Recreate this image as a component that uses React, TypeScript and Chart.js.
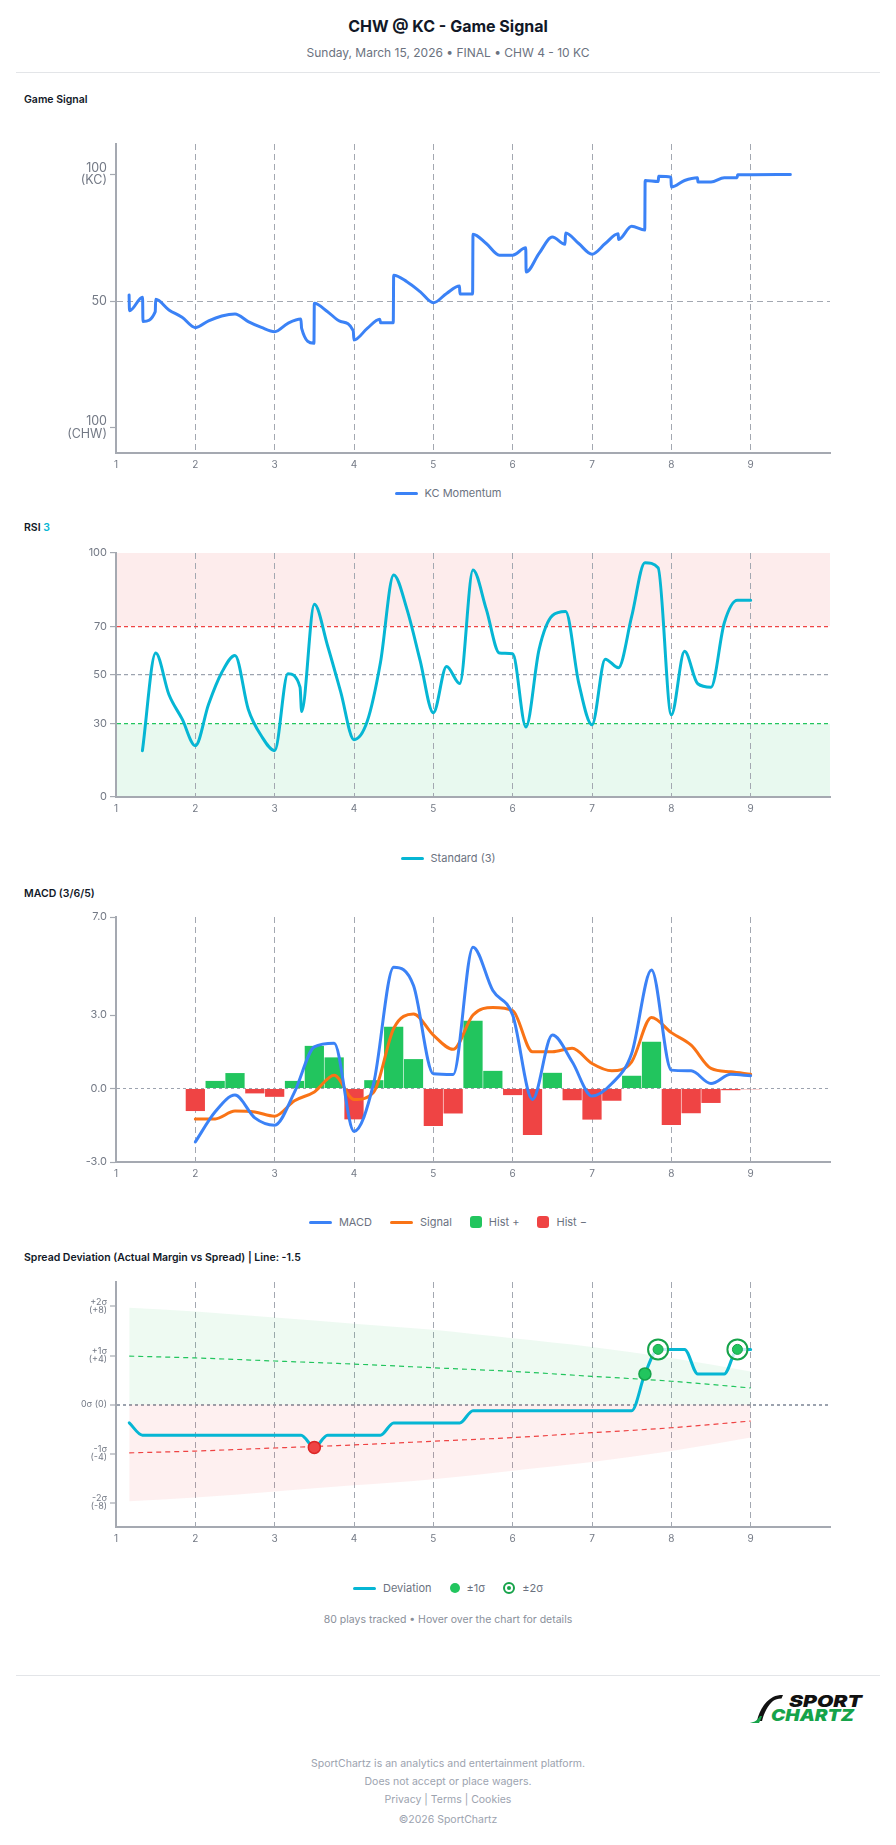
import React, { useEffect, useRef } from "react";
import { Chart, registerables } from "chart.js";

Chart.register(...registerables);

if (typeof document !== "undefined") {
  document.body.style.margin = "0";
  document.body.style.background = "#ffffff";
}

const FONT = "Inter, 'Noto Sans', 'DejaVu Sans', sans-serif";
const AXIS_COLOR = "#a5a9b1";
const GRID_COLOR = "#a3a8b1";
const TICK_COLOR = "#737985";
const W = 896;
const AREA_LEFT = 116;
const PAD_RIGHT = W - 830;

// ---------- shared x axis (innings) ----------
const INNINGS = [1, 2, 3, 4, 5, 6, 7, 8, 9];

// ---------- Game Signal (KC momentum) ----------
const momentumX = [1.165, 1.17, 1.335, 1.34, 1.495, 1.5, 1.667, 1.833, 2.0, 2.167, 2.333, 2.5, 2.667, 2.833, 3.0, 3.167, 3.33, 3.34, 3.495, 3.5, 3.667, 3.833, 3.99, 4.0, 4.167, 4.325, 4.335, 4.495, 4.5, 4.667, 4.833, 5.0, 5.167, 5.33, 5.335, 5.495, 5.5, 5.667, 5.833, 6.0, 6.165, 6.17, 6.333, 6.5, 6.66, 6.667, 6.833, 7.0, 7.167, 7.33, 7.335, 7.5, 7.665, 7.67, 7.835, 7.84, 7.995, 8.0, 8.167, 8.33, 8.335, 8.5, 8.667, 8.83, 8.835, 9.0, 9.5];
const momentumY = [52.4, 46.2, 51.5, 41.9, 45.8, 50.7, 46.5, 43.6, 39.5, 42.2, 44.1, 44.9, 41.9, 39.6, 37.9, 41.2, 42.9, 39.2, 33.3, 49.1, 45.8, 41.9, 38.3, 34.6, 39.2, 42.8, 41.4, 41.4, 60.2, 57.6, 53.7, 49.3, 53.0, 55.9, 52.8, 52.8, 76.4, 72.7, 68.1, 68.1, 71.0, 61.5, 68.8, 75.3, 72.4, 76.9, 72.7, 68.5, 72.7, 76.6, 74.3, 79.5, 78.0, 97.6, 97.2, 99.3, 98.9, 95.0, 97.6, 98.7, 97.0, 97.0, 98.7, 98.7, 99.9, 99.9, 100];
const momentumTicks = [0, 50, 100];

// ---------- RSI (3) ----------
const rsiX = [1.333, 1.5, 1.667, 1.833, 2.0, 2.167, 2.333, 2.5, 2.667, 2.833, 3.0, 3.167, 3.32, 3.34, 3.5, 3.667, 3.833, 4.0, 4.167, 4.333, 4.5, 4.667, 4.833, 5.0, 5.167, 5.333, 5.5, 5.667, 5.833, 6.0, 6.167, 6.333, 6.5, 6.667, 6.833, 7.0, 7.167, 7.333, 7.5, 7.667, 7.833, 8.0, 8.167, 8.333, 8.5, 8.667, 8.833, 9.0];
const rsiY = [19, 59, 42, 32, 21, 38, 51, 58, 36, 25, 19, 50.5, 45, 35, 79, 62, 43, 23.5, 31, 55, 91, 77, 56, 34.5, 53.5, 46.5, 93, 77, 59, 58.7, 28.7, 60.5, 74.3, 76, 46.7, 29.6, 56.5, 53, 74, 96, 94, 33.7, 59.7, 46.4, 45, 71.3, 80.6, 80.6];
const rsiTicks = [0, 30, 50, 70, 100];
const RSI_OVERSOLD = 30;
const RSI_MID = 50;
const RSI_OVERBOUGHT = 70;

// ---------- MACD (3/6/5) ----------
const macdX = [2, 2.25, 2.5, 2.75, 3, 3.25, 3.5, 3.75, 4, 4.25, 4.5, 4.75, 5, 5.25, 5.5, 5.75, 6, 6.25, 6.5, 6.75, 7, 7.25, 7.5, 7.75, 8, 8.25, 8.5, 8.75, 9];
const macdLine = [-2.18, -0.95, -0.27, -1.2, -1.5, -0.15, 1.7, 1.85, -1.75, 0.25, 4.95, 4.2, 0.6, 0.57, 5.77, 4.0, 3.0, -0.45, 2.18, 1.09, -0.31, 0.2, 1.43, 4.84, 0.75, 0.72, 0.2, 0.58, 0.52];
const signalLine = [-1.24, -1.24, -0.92, -0.96, -1.13, -0.5, -0.14, 0.54, -0.45, -0.14, 2.45, 3.04, 2.18, 1.6, 3.0, 3.31, 3.18, 1.5, 1.5, 1.64, 1.02, 0.72, 1.09, 2.9, 2.28, 1.77, 0.82, 0.68, 0.58];
const histogram = [-0.92, 0.31, 0.63, -0.2, -0.34, 0.31, 1.74, 1.27, -1.26, 0.34, 2.52, 1.2, -1.53, -1.02, 2.77, 0.72, -0.27, -1.9, 0.64, -0.48, -1.27, -0.5, 0.52, 1.91, -1.49, -1.01, -0.59, -0.07, -0.03];
const macdTicks = [-3, 0, 3, 7];

// ---------- Spread deviation ----------
const devX = [1.167, 1.333, 1.5, 1.667, 1.833, 2, 2.167, 2.333, 2.5, 2.667, 2.833, 3, 3.167, 3.333, 3.5, 3.667, 3.833, 4, 4.167, 4.333, 4.5, 4.667, 4.833, 5, 5.167, 5.333, 5.5, 5.667, 5.833, 6, 6.167, 6.333, 6.5, 6.667, 6.833, 7, 7.167, 7.333, 7.5, 7.667, 7.833, 8, 8.167, 8.333, 8.5, 8.667, 8.833, 9];
const devY = [-1.5, -2.5, -2.5, -2.5, -2.5, -2.5, -2.5, -2.5, -2.5, -2.5, -2.5, -2.5, -2.5, -2.5, -3.5, -2.5, -2.5, -2.5, -2.5, -2.5, -1.5, -1.5, -1.5, -1.5, -1.5, -1.5, -0.5, -0.5, -0.5, -0.5, -0.5, -0.5, -0.5, -0.5, -0.5, -0.5, -0.5, -0.5, -0.5, 2.5, 4.5, 4.5, 4.5, 2.5, 2.5, 2.5, 4.5, 4.5];
const bandX = [1.167, 2, 3, 4, 5, 6, 7, 8, 9];
const plus2Sigma = [7.9, 7.6, 7.1, 6.6, 6.1, 5.4, 4.7, 3.8, 2.7];
const minus2Sigma = [-7.9, -7.6, -7.1, -6.6, -6.1, -5.4, -4.7, -3.8, -2.7];
const plus1Sigma = [3.95, 3.8, 3.55, 3.3, 3.0, 2.7, 2.3, 1.9, 1.35];
const minus1Sigma = [-3.95, -3.8, -3.55, -3.3, -3.0, -2.7, -2.3, -1.9, -1.35];
const belowMarkX = [3.5];
const belowMarkY = [-3.5];
const sigma1MarkX = [7.667];
const sigma1MarkY = [2.5];
const sigma2MarkX = [7.833, 8.833];
const sigma2MarkY = [4.5, 4.5];
const spreadTicks = [-8, -4, 0, 4, 8];
const spreadTickLabels: Record<string, string | string[]> = {
  "8": ["+2σ", "(+8)"],
  "4": ["+1σ", "(+4)"],
  "0": "0σ (0)",
  "-4": ["-1σ", "(-4)"],
  "-8": ["-2σ", "(-8)"],
};

const pts = (xs: number[], ys: number[]) => xs.map((x, i) => ({ x, y: ys[i] }));

// ---------- axis builders ----------
function xAxis() {
  return {
    type: "linear",
    min: 1,
    max: 10,
    offset: false,
    afterBuildTicks: (s: any) => {
      s.ticks = INNINGS.map((v) => ({ value: v }));
    },
    afterFit: (s: any) => {
      s.height = 24;
    },
    grid: {
      offset: false,
      color: (c: any) => (c.tick && c.tick.value > 1 && c.tick.value <= 9 ? GRID_COLOR : "rgba(0,0,0,0)"),
      lineWidth: 1,
      drawTicks: false,
    },
    border: { display: true, color: AXIS_COLOR, width: 2, dash: [6, 4] },
    ticks: {
      color: TICK_COLOR,
      font: { family: FONT, size: 10 },
      padding: 6,
      autoSkip: false,
      maxRotation: 0,
      callback: (v: any) => String(v),
    },
  };
}

function yAxis(o: {
  min: number;
  max: number;
  ticks: number[];
  fmt: (v: number) => string | string[];
  gridColor: (v: number) => string;
  gridWidth?: number;
  dash: number[];
  size: number;
  lineHeight?: number;
}) {
  return {
    type: "linear",
    min: o.min,
    max: o.max,
    afterBuildTicks: (s: any) => {
      s.ticks = o.ticks.map((v) => ({ value: v }));
    },
    afterFit: (s: any) => {
      s.width = AREA_LEFT;
    },
    grid: {
      color: (c: any) => (c.tick ? o.gridColor(c.tick.value) : "rgba(0,0,0,0)"),
      lineWidth: o.gridWidth ?? 1,
      drawTicks: true,
      tickLength: 6,
      tickColor: AXIS_COLOR,
      tickWidth: 1.2,
    },
    border: { display: true, color: AXIS_COLOR, width: 2, dash: o.dash },
    ticks: {
      color: TICK_COLOR,
      font: { family: FONT, size: o.size, lineHeight: o.lineHeight ?? 1.2 },
      padding: 3,
      autoSkip: false,
      callback: (v: any) => o.fmt(Number(v)),
    },
  };
}

function baseOptions(padTop: number) {
  return {
    responsive: false,
    animation: false,
    events: [],
    layout: { padding: { top: padTop, right: PAD_RIGHT, left: 0, bottom: 0 } },
    plugins: { legend: { display: false }, tooltip: { enabled: false } },
    elements: { point: { radius: 0, hoverRadius: 0 } },
  };
}

const lineDs = (label: string, data: any[], color: string, order: number, extra: any = {}) => ({
  type: "line",
  label,
  data,
  borderColor: color,
  backgroundColor: color,
  borderWidth: 3,
  pointRadius: 0,
  fill: false,
  cubicInterpolationMode: "monotone",
  borderCapStyle: "round",
  borderJoinStyle: "round",
  order,
  ...extra,
});

// ---------- chart configs ----------
function momentumConfig() {
  return {
    type: "line",
    data: {
      datasets: [lineDs("KC Momentum", pts(momentumX, momentumY), "#3b82f6", 0)],
    },
    options: {
      ...baseOptions(24),
      scales: {
        x: xAxis(),
        y: yAxis({
          min: -10,
          max: 112,
          ticks: momentumTicks,
          fmt: (v) => (v === 100 ? ["100", "(KC)"] : v === 0 ? ["100", "(CHW)"] : String(v)),
          gridColor: (v) => (v === 50 ? GRID_COLOR : "rgba(0,0,0,0)"),
          dash: [6, 4],
          size: 12.5,
          lineHeight: 0.98,
        }),
      },
    },
  };
}

const rsiZonesPlugin = {
  id: "rsiZones",
  beforeDraw(chart: any) {
    const { ctx, chartArea: a, scales } = chart;
    const y = scales.y;
    const band = (from: number, to: number, color: string) => {
      const y1 = y.getPixelForValue(to);
      const y2 = y.getPixelForValue(from);
      ctx.save();
      ctx.fillStyle = color;
      ctx.fillRect(a.left, y1, a.right - a.left, y2 - y1);
      ctx.restore();
    };
    band(RSI_OVERBOUGHT, 100, "rgba(239,68,68,0.10)");
    band(0, RSI_OVERSOLD, "rgba(34,197,94,0.10)");
  },
};

function rsiConfig() {
  return {
    type: "line",
    data: {
      datasets: [lineDs("Standard (3)", pts(rsiX, rsiY), "#06b6d4", 0)],
    },
    options: {
      ...baseOptions(13),
      scales: {
        x: xAxis(),
        y: yAxis({
          min: 0,
          max: 100,
          ticks: rsiTicks,
          fmt: (v) => String(v),
          gridColor: (v) =>
            v === RSI_OVERBOUGHT ? "#ef4444" : v === RSI_OVERSOLD ? "#22c55e" : v === RSI_MID ? "#9ca3af" : "rgba(0,0,0,0)",
          gridWidth: 1.2,
          dash: [4, 3],
          size: 11,
        }),
      },
    },
    plugins: [rsiZonesPlugin],
  };
}

function macdConfig() {
  const all = pts(macdX, histogram);
  const pos = all.filter((p) => p.y >= 0);
  const neg = all.filter((p) => p.y < 0);
  const barCommon = {
    type: "bar",
    grouped: false,
    barPercentage: 0.97,
    categoryPercentage: 1,
    borderWidth: 0,
  };
  return {
    type: "line",
    data: {
      datasets: [
        lineDs("MACD", pts(macdX, macdLine), "#3b82f6", 0),
        lineDs("Signal", pts(macdX, signalLine), "#f97316", 1),
        { ...barCommon, label: "Hist +", data: pos, backgroundColor: "#22c55e", order: 2 },
        { ...barCommon, label: "Hist −", data: neg, backgroundColor: "#ef4444", order: 3 },
      ],
    },
    options: {
      ...baseOptions(12),
      scales: {
        x: xAxis(),
        y: yAxis({
          min: -3,
          max: 7,
          ticks: macdTicks,
          fmt: (v) => v.toFixed(1),
          gridColor: (v) => (v === 0 ? "#9ca3af" : "rgba(0,0,0,0)"),
          dash: [3, 3],
          size: 11,
        }),
      },
    },
  };
}

function spreadConfig() {
  const marker = (label: string, xs: number[], ys: number[], r: number, bg: string, border: string, bw: number, order: number) => ({
    type: "line",
    label,
    data: pts(xs, ys),
    showLine: false,
    pointRadius: r,
    pointStyle: "circle",
    pointBackgroundColor: bg,
    pointBorderColor: border,
    pointBorderWidth: bw,
    order,
  });
  return {
    type: "line",
    data: {
      datasets: [
        marker("±2σ inner", sigma2MarkX, sigma2MarkY, 5, "#22c55e", "#16a34a", 1, 0),
        marker("±2σ", sigma2MarkX, sigma2MarkY, 10, "rgba(255,255,255,0.75)", "#16a34a", 2, 1),
        marker("±1σ", sigma1MarkX, sigma1MarkY, 6, "#22c55e", "#16a34a", 1.5, 2),
        marker("below -1σ", belowMarkX, belowMarkY, 6, "#ef4444", "#dc2626", 1.5, 3),
        lineDs("Deviation", pts(devX, devY), "#06b6d4", 4),
        lineDs("+1σ", pts(bandX, plus1Sigma), "#22c55e", 5, { borderWidth: 1.2, borderDash: [5, 4], borderCapStyle: "butt" }),
        lineDs("-1σ", pts(bandX, minus1Sigma), "#ef4444", 6, { borderWidth: 1.2, borderDash: [5, 4], borderCapStyle: "butt" }),
        lineDs("+2σ", pts(bandX, plus2Sigma), "rgba(0,0,0,0)", 7, {
          borderWidth: 0,
          fill: "origin",
          backgroundColor: "rgba(34,197,94,0.08)",
        }),
        lineDs("-2σ", pts(bandX, minus2Sigma), "rgba(0,0,0,0)", 8, {
          borderWidth: 0,
          fill: "origin",
          backgroundColor: "rgba(239,68,68,0.08)",
        }),
      ],
    },
    options: {
      ...baseOptions(12),
      scales: {
        x: xAxis(),
        y: yAxis({
          min: -10,
          max: 10,
          ticks: spreadTicks,
          fmt: (v) => spreadTickLabels[String(v)] ?? String(v),
          gridColor: (v) => (v === 0 ? "#9ca3af" : "rgba(0,0,0,0)"),
          gridWidth: 2,
          dash: [3, 3],
          size: 9,
          lineHeight: 0.95,
        }),
      },
    },
  };
}

// ---------- components ----------
function ChartBox({ top, height, build }: { top: number; height: number; build: () => any }) {
  const ref = useRef<HTMLCanvasElement | null>(null);
  useEffect(() => {
    if (!ref.current) return;
    const chart = new Chart(ref.current, build() as any);
    return () => chart.destroy();
  }, []);
  return (
    <canvas
      ref={ref}
      width={W}
      height={height}
      style={{ position: "absolute", left: 0, top, width: W, height, display: "block" }}
    />
  );
}

function Text({
  y,
  size,
  children,
  weight = 400,
  color = "#6b7280",
  left,
}: {
  y: number;
  size: number;
  children: any;
  weight?: number;
  color?: string;
  left?: number;
}) {
  const lh = Math.round(size * 1.4);
  const style: any = {
    position: "absolute",
    top: y - lh / 2,
    height: lh,
    lineHeight: lh + "px",
    fontSize: size,
    fontWeight: weight,
    color,
    whiteSpace: "nowrap",
  };
  if (left === undefined) {
    style.left = 0;
    style.width = W;
    style.textAlign = "center";
  } else {
    style.left = left;
  }
  return <div style={style}>{children}</div>;
}

type LegendItem = { label: string; kind: "line" | "box" | "dot" | "ring"; color: string };

function Swatch({ kind, color }: { kind: LegendItem["kind"]; color: string }) {
  if (kind === "line") return <div style={{ width: 23, height: 3, background: color, borderRadius: 1.5 }} />;
  if (kind === "box") return <div style={{ width: 12, height: 12, background: color, borderRadius: 3 }} />;
  if (kind === "dot") return <div style={{ width: 10, height: 10, background: color, borderRadius: "50%" }} />;
  return (
    <div
      style={{
        width: 12,
        height: 12,
        boxSizing: "border-box",
        border: `2px solid ${color}`,
        borderRadius: "50%",
        display: "flex",
        alignItems: "center",
        justifyContent: "center",
      }}
    >
      <div style={{ width: 4, height: 4, background: color, borderRadius: "50%" }} />
    </div>
  );
}

function Legend({ y, items }: { y: number; items: LegendItem[] }) {
  return (
    <div
      style={{
        position: "absolute",
        left: 0,
        width: W,
        top: y - 9,
        height: 18,
        display: "flex",
        justifyContent: "center",
        alignItems: "center",
        gap: 18,
        fontSize: 11,
        color: "#6b7280",
      }}
    >
      {items.map((it) => (
        <div key={it.label} style={{ display: "flex", alignItems: "center", gap: 7 }}>
          <Swatch kind={it.kind} color={it.color} />
          <span>{it.label}</span>
        </div>
      ))}
    </div>
  );
}

function Hr({ y }: { y: number }) {
  return <div style={{ position: "absolute", left: 16, width: 864, top: y, height: 1, background: "#e3e5e8" }} />;
}

function Logo() {
  return (
    <svg width={118} height={32} viewBox="0 0 118 32" style={{ position: "absolute", left: 747, top: 1692 }}>
      <path d="M10 29 C 12 20, 17 10, 26 5 C 29 3.5, 32 3, 36 3 L 34.5 6.5 C 31 6.5, 28 7.5, 26 9 C 21 13, 17 21, 15 29 Z" fill="#111111" />
      <path d="M1 31 C 6 31, 10 29, 13 24 L 15 24 C 14 27, 13 29, 12 31 Z" fill="#16a34a" />
      <text x={42} y={15} fontFamily="Inter, sans-serif" fontWeight={900} fontStyle="italic" fontSize={16.5} fill="#111111" textLength={73} lengthAdjust="spacingAndGlyphs">
        SPORT
      </text>
      <text x={24} y={29} fontFamily="Inter, sans-serif" fontWeight={900} fontStyle="italic" fontSize={16.5} fill="#16a34a" textLength={83} lengthAdjust="spacingAndGlyphs">
        CHARTZ
      </text>
    </svg>
  );
}

export default function App() {
  return (
    <div style={{ position: "relative", width: W, height: 1845, background: "#ffffff", fontFamily: FONT, overflow: "hidden" }}>
      <Text y={26} size={16} weight={700} color="#111827">
        CHW @ KC - Game Signal
      </Text>
      <Text y={52} size={12} color="#6b7280">
        Sunday, March 15, 2026 • FINAL • CHW 4 - 10 KC
      </Text>
      <Hr y={72} />

      <Text y={99} size={10.5} weight={600} color="#111827" left={24}>
        Game Signal
      </Text>
      <ChartBox top={120} height={357} build={momentumConfig} />
      <Legend y={493} items={[{ label: "KC Momentum", kind: "line", color: "#3b82f6" }]} />

      <Text y={527} size={10.5} weight={600} color="#111827" left={24}>
        RSI <span style={{ color: "#06b6d4" }}>3</span>
      </Text>
      <ChartBox top={540} height={281} build={rsiConfig} />
      <Legend y={858} items={[{ label: "Standard (3)", kind: "line", color: "#06b6d4" }]} />

      <Text y={893} size={10.5} weight={600} color="#111827" left={24}>
        MACD (3/6/5)
      </Text>
      <ChartBox top={905} height={281} build={macdConfig} />
      <Legend
        y={1222}
        items={[
          { label: "MACD", kind: "line", color: "#3b82f6" },
          { label: "Signal", kind: "line", color: "#f97316" },
          { label: "Hist +", kind: "box", color: "#22c55e" },
          { label: "Hist −", kind: "box", color: "#ef4444" },
        ]}
      />

      <Text y={1257} size={10.5} weight={600} color="#111827" left={24}>
        Spread Deviation (Actual Margin vs Spread) | Line: -1.5
      </Text>
      <ChartBox top={1270} height={281} build={spreadConfig} />
      <Legend
        y={1588}
        items={[
          { label: "Deviation", kind: "line", color: "#06b6d4" },
          { label: "±1σ", kind: "dot", color: "#22c55e" },
          { label: "±2σ", kind: "ring", color: "#16a34a" },
        ]}
      />
      <Text y={1619} size={10.5} color="#8a909b">
        80 plays tracked • Hover over the chart for details
      </Text>

      <Hr y={1675} />
      <Logo />

      <Text y={1763} size={10.5} color="#9ca3af">
        SportChartz is an analytics and entertainment platform.
      </Text>
      <Text y={1781} size={10.5} color="#9ca3af">
        Does not accept or place wagers.
      </Text>
      <Text y={1799} size={10.5} color="#9ca3af">
        Privacy | Terms | Cookies
      </Text>
      <Text y={1819} size={10.5} color="#9ca3af">
        ©2026 SportChartz
      </Text>
    </div>
  );
}
